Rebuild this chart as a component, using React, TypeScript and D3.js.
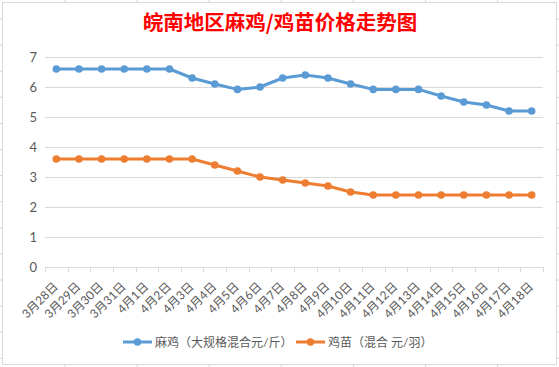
import React from "react";
import * as d3 from "d3";

const dates = [
  "3月28日", "3月29日", "3月30日", "3月31日",
  "4月1日", "4月2日", "4月3日", "4月4日", "4月5日", "4月6日", "4月7日",
  "4月8日", "4月9日", "4月10日", "4月11日", "4月12日", "4月13日",
  "4月14日", "4月15日", "4月16日", "4月17日", "4月18日",
];
const maji = [
  6.6, 6.6, 6.6, 6.6, 6.6, 6.6, 6.3, 6.1, 5.92, 6.0, 6.3,
  6.4, 6.3, 6.1, 5.92, 5.92, 5.92, 5.7, 5.5, 5.4, 5.2, 5.2,
];
const jimiao = [
  3.6, 3.6, 3.6, 3.6, 3.6, 3.6, 3.6, 3.4, 3.2, 3.0, 2.9,
  2.8, 2.7, 2.5, 2.4, 2.4, 2.4, 2.4, 2.4, 2.4, 2.4, 2.4,
];
const yTicks = [0, 1, 2, 3, 4, 5, 6, 7];
const seriesNames = ["麻鸡（大规格混合元/斤）", "鸡苗（混合 元/羽）"];
const colors = ["#5B9BD5", "#ED7D31"];

const W = 559;
const H = 367;
const plot = { left: 45, right: 543, top: 57, bottom: 267 };
const gridColor = "#D9D9D9";
const labelFont = "Lato, 'Noto Sans CJK SC', sans-serif";

export default function App() {
  const x = d3
    .scaleBand<string>()
    .domain(dates)
    .range([plot.left, plot.right]);
  const y = d3.scaleLinear().domain([0, 7]).range([plot.bottom, plot.top]);
  const cx = (d: string) => (x(d) as number) + x.bandwidth() / 2;

  const line = d3
    .line<number>()
    .x((_, i) => cx(dates[i]))
    .y((d) => y(d));

  const series = [maji, jimiao];

  // faint spreadsheet cells behind the chart object
  const colStubs = d3.range(8).map((k) => 65 + k * 72.1);
  const rowStubs = d3.range(14).map((k) => 19 + k * 26.1);

  return (
    <svg
      width={W}
      height={H}
      style={{ position: "fixed", left: 0, top: 0, background: "#fff" }}
    >
      {colStubs.map((v, i) => (
        <g key={`c${i}`} stroke="#D4D4D4">
          <line x1={v} x2={v} y1={0} y2={2} />
          <line x1={v} x2={v} y1={365} y2={H} />
        </g>
      ))}
      {rowStubs.map((v, i) => (
        <g key={`r${i}`} stroke="#D4D4D4">
          <line x1={0} x2={2} y1={v} y2={v} />
          <line x1={557} x2={W} y1={v} y2={v} />
        </g>
      ))}
      <rect
        x={2.5}
        y={2.5}
        width={554}
        height={362}
        fill="#fff"
        stroke={gridColor}
      />

      <text
        x={280}
        y={30}
        textAnchor="middle"
        fill="#FF0000"
        style={{
          fontFamily: "'Noto Sans CJK SC', sans-serif",
          fontSize: "20.5px",
          fontWeight: "bold",
        }}
      >
        皖南地区麻鸡/鸡苗价格走势图
      </text>

      {yTicks.map((t) => (
        <g key={`y${t}`}>
          <line
            x1={plot.left}
            x2={plot.right}
            y1={Math.round(y(t)) + 0.5}
            y2={Math.round(y(t)) + 0.5}
            stroke={gridColor}
          />
          <text
            x={37}
            y={y(t) + 4.5}
            textAnchor="end"
            fill="#595959"
            style={{ fontFamily: labelFont, fontSize: "13px" }}
          >
            {t}
          </text>
        </g>
      ))}

      {dates.concat([""]).map((d, i) => {
        const px = Math.round(plot.left + i * x.bandwidth()) + 0.5;
        return (
          <line
            key={`t${i}`}
            x1={px}
            x2={px}
            y1={plot.bottom}
            y2={plot.bottom + 5}
            stroke={gridColor}
          />
        );
      })}

      {dates.map((d) => (
        <text
          key={`xl${d}`}
          transform={`translate(${cx(d) - 4},${plot.bottom + 14}) rotate(-45)`}
          textAnchor="end"
          dy="0.75em"
          fill="#595959"
          style={{ fontFamily: labelFont, fontSize: "12px" }}
        >
          {d}
        </text>
      ))}

      {series.map((s, si) => (
        <g key={`s${si}`}>
          <path
            d={line(s) as string}
            fill="none"
            stroke={colors[si]}
            strokeWidth={3}
            strokeLinejoin="round"
          />
          {s.map((v, i) => (
            <circle
              key={`p${si}-${i}`}
              cx={cx(dates[i])}
              cy={y(v)}
              r={3.8}
              fill={colors[si]}
            />
          ))}
        </g>
      ))}

      {seriesNames.map((name, i) => {
        const lx = i === 0 ? 123 : 296;
        return (
          <g key={`lg${i}`}>
            <line
              x1={lx}
              x2={lx + 29}
              y1={342}
              y2={342}
              stroke={colors[i]}
              strokeWidth={3}
            />
            <circle cx={lx + 14.5} cy={342} r={3.8} fill={colors[i]} />
            <text
              x={lx + 32}
              y={346.5}
              fill="#595959"
              style={{ fontFamily: labelFont, fontSize: "12px" }}
            >
              {name}
            </text>
          </g>
        );
      })}
    </svg>
  );
}
